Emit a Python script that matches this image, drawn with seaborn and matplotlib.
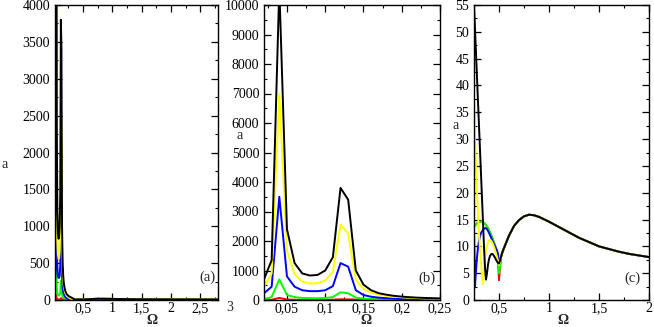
import matplotlib
matplotlib.use('Agg')
import matplotlib.pyplot as plt
import matplotlib.transforms as mtransforms
from matplotlib.ticker import MultipleLocator, FuncFormatter
import seaborn as sns
import pandas as pd

# ---- data: low frequency range (panel b) ----
omega_b = [0.02, 0.03, 0.04, 0.05, 0.06, 0.07, 0.08, 0.09, 0.10, 0.11, 0.12, 0.13,
           0.14, 0.15, 0.16, 0.17, 0.18, 0.19, 0.20, 0.21, 0.22, 0.23, 0.24, 0.25]
black_b = [700, 1350, 10600, 2400, 1250, 900, 830, 850, 1000, 1450, 3800, 3400,
           1000, 520, 330, 230, 180, 140, 115, 95, 80, 70, 62, 55]
yellow_b = [450, 900, 7000, 1650, 880, 620, 560, 570, 660, 960, 2550, 2260,
            680, 380, 250, 180, 140, 110, 90, 75, 62, 52, 45, 38]
blue_b = [230, 450, 3500, 800, 450, 330, 300, 300, 330, 470, 1250, 1130,
          330, 170, 110, 80, 60, 45, 35, 28, 23, 19, 16, 13]
green_b = [30, 100, 700, 170, 100, 70, 60, 60, 70, 100, 260, 230,
           80, 45, 32, 26, 22, 19, 17, 16, 15, 14.5, 14, 13.7]
red_b = [5, 10, 70, 18, 10, 8, 8, 8, 9, 12, 25, 22,
         15, 14, 14, 14, 14, 14, 14, 14, 14, 14, 14, 13.7]

# ---- data: higher frequency range (panel c) ----
omega_c = [0.26, 0.27, 0.28, 0.29, 0.30, 0.31, 0.32, 0.33, 0.34, 0.35, 0.36,
           0.37, 0.38, 0.39, 0.40, 0.41, 0.42, 0.43, 0.44, 0.45, 0.46, 0.47,
           0.48, 0.49, 0.50, 0.51]
black_c = [50.5, 46, 41.5, 37, 32.5, 28, 23.5, 19, 14.5, 10, 6,
           3.8, 5.0, 6.6, 7.6, 8.2, 8.5, 8.6, 8.5, 8.2, 7.9, 7.5,
           7.2, 6.9, 6.8, 7.3]
yellow_c = [30, 25, 20, 16, 12.5, 9.5, 7, 4.5, 3.0, 5.5, 8.0,
            9.2, 10.1, 10.7, 11.1, 11.2, 11.1, 10.8, 10.4, 9.9, 9.3, 8.7,
            8.0, 7.3, 6.5, 7.2]
blue_c = [2.5, 5.5, 8.0, 9.8, 11.0, 11.9, 12.5, 12.8, 13.1, 13.3, 13.4,
          13.4, 13.2, 12.9, 12.5, 12.1, 11.7, 11.2, 10.8, 10.4, 10.0, 9.6,
          9.2, 8.6, 7.0, 7.3]
green_c = [13.9, 14.1, 14.3, 14.4, 14.5, 14.6, 14.6, 14.6, 14.5, 14.4, 14.2,
           14.0, 13.7, 13.4, 13.0, 12.6, 12.2, 11.7, 11.2, 10.7, 10.2, 9.6,
           9.0, 8.0, 5.0, 6.2]
red_c = [13.9, 14.1, 14.3, 14.4, 14.5, 14.6, 14.6, 14.6, 14.5, 14.4, 14.2,
         14.0, 13.7, 13.4, 13.0, 12.6, 12.2, 11.7, 11.2, 10.7, 10.2, 9.6,
         9.0, 7.5, 3.7, 6.0]
# all curves coincide above the second dip
omega_tail = [0.52, 0.53, 0.54, 0.55, 0.60, 0.65, 0.70, 0.75, 0.80, 0.85, 0.90,
              1.0, 1.1, 1.2, 1.3, 1.4, 1.5, 1.6, 1.7, 1.8, 1.9, 2.0, 2.5, 3.0]
a_tail = [8.0, 8.7, 9.2, 9.7, 12.0, 13.8, 14.9, 15.6, 15.9, 15.8, 15.5,
          14.6, 13.6, 12.6, 11.6, 10.8, 10.0, 9.5, 9.0, 8.6, 8.3, 8.0, 6.8, 5.8]

series = ['red', 'green', 'blue', 'yellow', 'black']
colors = {'red': '#ff0000', 'green': '#00ff00', 'blue': '#0000ff',
          'yellow': '#ffff00', 'black': '#000000'}
low = {'red': red_b, 'green': green_b, 'blue': blue_b, 'yellow': yellow_b, 'black': black_b}
high = {'red': red_c, 'green': green_c, 'blue': blue_c, 'yellow': yellow_c, 'black': black_c}

rows = []
for s in series:
    for w, v in zip(omega_b, low[s]):
        rows.append((w, v, s))
    for w, v in zip(omega_c + omega_tail, high[s] + a_tail):
        rows.append((w, v, s))
df = pd.DataFrame(rows, columns=['omega', 'a', 'series'])

sns.set_style('ticks')
plt.rcParams['font.family'] = ['Liberation Serif', 'DejaVu Serif']

fig = plt.figure(figsize=(6.54, 3.27), dpi=100)
ax1 = fig.add_axes([55 / 654, 27 / 327, 163 / 654, 295 / 327])
ax2 = fig.add_axes([264 / 654, 27 / 327, 176 / 654, 295 / 327])
ax3 = fig.add_axes([474 / 654, 27 / 327, 175 / 654, 295 / 327])

comma = FuncFormatter(lambda v, p: ('%g' % round(v, 4)).replace('.', ','))

setup = [
    (ax1, (0.02, 2.8), (0, 4000), 0.5, 500, '(a)', (-0.307, 0.458), (0.595, -0.068), (0.933, 0.078)),
    (ax2, (0.02, 0.25), (0, 10000), 0.05, 1000, '(b)', (-0.136, 0.556), (0.58, -0.068), (0.926, 0.075)),
    (ax3, (0.25, 2.0), (0, 55), 0.5, 5, '(c)', (-0.103, 0.593), (0.51, -0.068), (0.903, 0.075)),
]

for ax, xl, yl, xmaj, ymaj, tag, ylab, xlab, tpos in setup:
    sub = df if ax is ax1 else df[(df['omega'] >= xl[0] - 1e-9) & (df['omega'] <= xl[1] + 1e-9)]
    sns.lineplot(data=sub, x='omega', y='a', hue='series', hue_order=series,
                 palette=colors, sort=False, estimator=None, legend=False,
                 linewidth=1.4, ax=ax)
    ax.set_xlim(*xl)
    ax.set_ylim(*yl)
    ax.xaxis.set_major_locator(MultipleLocator(xmaj))
    ax.xaxis.set_minor_locator(MultipleLocator(xmaj / 2))
    ax.yaxis.set_major_locator(MultipleLocator(ymaj))
    ax.yaxis.set_minor_locator(MultipleLocator(ymaj / 2))
    ax.xaxis.set_major_formatter(comma)
    ax.tick_params(which='both', direction='in', top=True, right=True,
                   labelsize=10, colors='black')
    ax.tick_params(axis='x', pad=1.5)
    ax.tick_params(which='major', length=5, width=0.9)
    ax.tick_params(which='minor', length=2.5, width=0.8)
    for sp in ax.spines.values():
        sp.set_linewidth(1.0)
        sp.set_color('black')
    ax.set_ylabel('a', rotation=0, fontsize=10, ha='center', va='center')
    ax.yaxis.set_label_coords(*ylab)
    ax.set_xlabel('Ω', fontsize=10, fontweight='bold', va='center')
    ax.xaxis.set_label_coords(*xlab)
    ax.text(tpos[0], tpos[1], tag, transform=ax.transAxes, fontsize=10.5,
            ha='center', va='center')

# tick label "3" sits just outside the right edge of panel (a)
trans = mtransforms.blended_transform_factory(ax1.transData, ax1.transAxes)
ax1.text(3.0, -0.005, '3', transform=trans, fontsize=10, ha='center', va='top',
         clip_on=False)

fig.savefig('out.png', dpi=100)
